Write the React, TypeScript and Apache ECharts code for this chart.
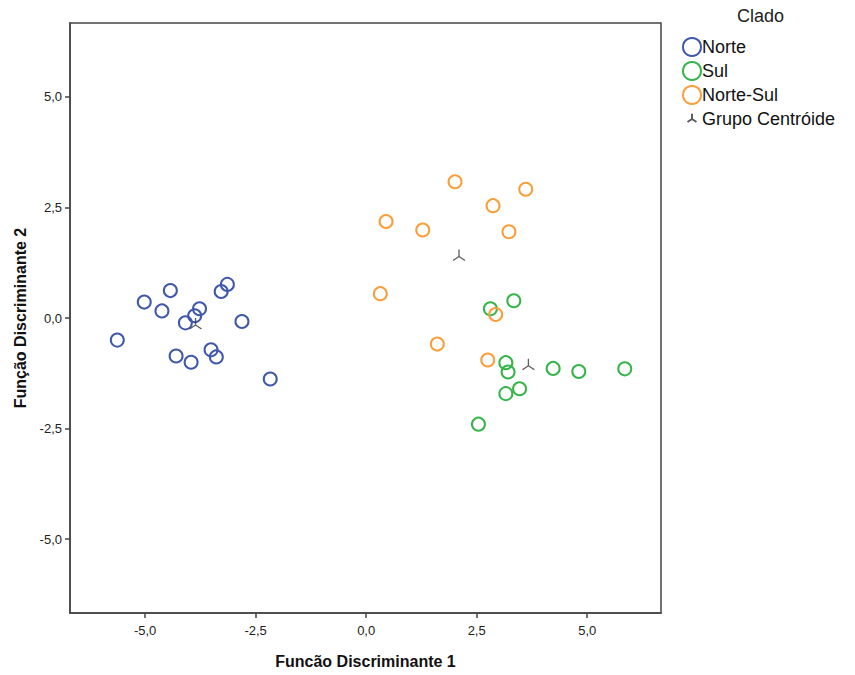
import React, { useEffect, useRef } from "react";
import * as echarts from "echarts";

const norte: [number, number][] = [
  [-5.63, -0.5], [-5.02, 0.36], [-4.62, 0.16], [-4.43, 0.62], [-4.09, -0.11],
  [-3.88, 0.05], [-3.77, 0.21], [-3.28, 0.6], [-3.14, 0.76], [-2.81, -0.08],
  [-4.3, -0.86], [-3.96, -1.0], [-3.51, -0.72], [-3.39, -0.88], [-2.17, -1.38],
];
const sul: [number, number][] = [
  [3.34, 0.39], [2.81, 0.21], [3.16, -1.01], [3.21, -1.22], [4.23, -1.14],
  [4.81, -1.21], [5.85, -1.15], [3.47, -1.6], [3.16, -1.71], [2.54, -2.4],
];
const norteSul: [number, number][] = [
  [2.01, 3.08], [3.61, 2.91], [2.87, 2.54], [0.45, 2.18], [1.28, 1.99],
  [3.23, 1.95], [0.32, 0.55], [2.93, 0.08], [1.61, -0.59], [2.75, -0.95],
];
const centroids: [number, number][] = [
  [-3.86, -0.16], [3.67, -1.08], [2.1, 1.39],
];
const tickValues = [-5, -2.5, 0, 2.5, 5];
const legendTitle = "Clado";
const seriesNames = ["Norte", "Sul", "Norte-Sul", "Grupo Centróide"];

const FONT = "'Liberation Sans', Arial, sans-serif";
const centroidPath =
  "path://M-12,-12 M12,12 M0,-7 L0,0 M0,0 L-6,4 M0,0 L6,4";

export default function App() {
  const ref = useRef<HTMLDivElement>(null);
  useEffect(() => {
    if (!ref.current) return;
    const chart = echarts.init(ref.current, null, { renderer: "svg" });
    const fmt = (v: number) => v.toFixed(1).replace(".", ",");
    const axisCommon = {
      type: "value" as const,
      splitLine: { show: false },
      axisLine: { show: true, onZero: false, lineStyle: { color: "#444", width: 1.5 } },
      axisTick: {
        show: true,
        length: 5,
        customValues: tickValues,
        lineStyle: { color: "#444", width: 1.5 },
      },
      axisLabel: {
        customValues: tickValues,
        formatter: (v: number) => fmt(v),
        color: "#222",
        fontSize: 13,
        fontFamily: FONT,
      },
      nameLocation: "middle" as const,
      nameTextStyle: {
        color: "#111",
        fontSize: 16,
        fontWeight: "bold" as const,
        fontFamily: FONT,
      },
    };
    const circleSeries = (name: string, data: [number, number][], color: string) => ({
      type: "scatter" as const,
      name,
      data,
      symbol: "circle",
      symbolSize: 13,
      itemStyle: { color: "transparent", borderColor: color, borderWidth: 2, opacity: 1 },
      emphasis: { disabled: true },
    });
    chart.setOption({
      animation: false,
      backgroundColor: "#fff",
      grid: {
        left: 70,
        right: 194,
        top: 23,
        bottom: 62,
        show: true,
        borderColor: "#444",
        borderWidth: 1.5,
        backgroundColor: "transparent",
      },
      xAxis: {
        ...axisCommon,
        min: -6.7,
        max: 6.67,
        name: "Função Discriminante 1",
        nameGap: 40,
        axisLabel: { ...axisCommon.axisLabel, margin: 11 },
      },
      yAxis: {
        ...axisCommon,
        min: -6.67,
        max: 6.67,
        name: "Função Discriminante 2",
        nameGap: 40,
        axisLabel: { ...axisCommon.axisLabel, margin: 8 },
      },
      legend: {
        orient: "vertical",
        left: 677,
        top: 32,
        itemWidth: 18,
        itemHeight: 18,
        itemGap: 4,
        selectedMode: false,
        data: seriesNames,
        textStyle: {
          color: "#111",
          fontSize: 18,
          fontFamily: FONT,
          lineHeight: 19,
          padding: [0, 0, 0, -4],
        },
      },
      graphic: [
        {
          type: "text",
          left: 737,
          top: 7,
          style: { text: legendTitle, fontSize: 18, fontFamily: FONT, fill: "#222" },
        },
      ],
      series: [
        circleSeries(seriesNames[0], norte, "#3e58ac"),
        circleSeries(seriesNames[1], sul, "#35b549"),
        circleSeries(seriesNames[2], norteSul, "#fb9d3a"),
        {
          type: "scatter",
          name: seriesNames[3],
          data: centroids,
          symbol: centroidPath,
          symbolSize: 24,
          itemStyle: { color: "#333", borderColor: "#333", borderWidth: 1.3 },
          emphasis: { disabled: true },
          z: 5,
        },
      ],
    });
    return () => chart.dispose();
  }, []);
  return <div ref={ref} style={{ width: 855, height: 675, margin: -8 }} />;
}
